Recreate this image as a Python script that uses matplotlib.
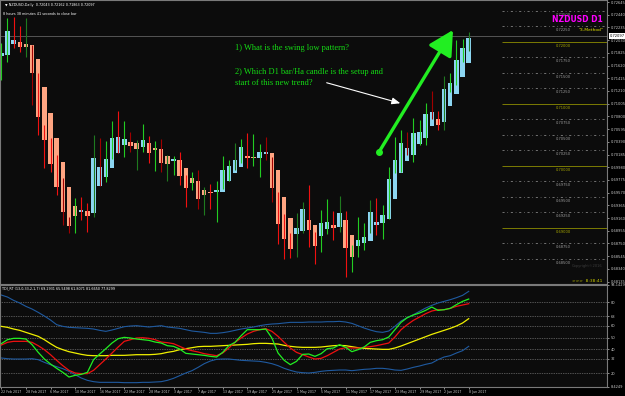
"""
NZDUSD D1 chart with Heiken Ashi bodies and TDI sub-window (MT4 style)
"""
import matplotlib.pyplot as plt
import matplotlib.transforms as mtransforms
import numpy as np

# ---- data -----------------------------------------------------------------
date_labels = ["22 Feb 2017", "28 Feb 2017", "6 Mar 2017", "10 Mar 2017",
               "16 Mar 2017", "22 Mar 2017", "28 Mar 2017", "3 Apr 2017",
               "7 Apr 2017", "13 Apr 2017", "19 Apr 2017", "25 Apr 2017",
               "1 May 2017", "5 May 2017", "11 May 2017", "17 May 2017",
               "23 May 2017", "29 May 2017", "2 Jun 2017", "8 Jun 2017"]

# heiken ashi body
ha_open = [0.71774, 0.71790, 0.71968, 0.72000, 0.71968, 0.71952, 0.71726, 0.71274,
           0.70855, 0.70452, 0.70065, 0.69661, 0.69355, 0.69258, 0.69274, 0.69242,
           0.69677, 0.69823, 0.69968, 0.70210, 0.70339, 0.70387, 0.70371, 0.70306,
           0.70371, 0.70290, 0.70274, 0.70161, 0.70081, 0.70097, 0.69968, 0.69806,
           0.69758, 0.69613, 0.69581, 0.69581, 0.69581, 0.69758, 0.69887, 0.69984,
           0.70161, 0.70145, 0.70129, 0.70194, 0.70210, 0.69936, 0.69500, 0.69161,
           0.68903, 0.68952, 0.69129, 0.69048, 0.68871, 0.68984, 0.69048, 0.69016,
           0.69129, 0.68887, 0.68710, 0.68758, 0.68790, 0.69048, 0.69081, 0.69145,
           0.69468, 0.69887, 0.70081, 0.70177, 0.70355, 0.70452, 0.70645, 0.70758,
           0.70710, 0.70968, 0.71161, 0.71436, 0.71661]
ha_close = [0.71823, 0.72177, 0.72032, 0.71919, 0.71919, 0.71500, 0.70790, 0.70419,
            0.70032, 0.69661, 0.69258, 0.69032, 0.69194, 0.69290, 0.69194, 0.70129,
            0.69984, 0.70113, 0.70452, 0.70468, 0.70436, 0.70323, 0.70274, 0.70419,
            0.70210, 0.70258, 0.70048, 0.70032, 0.70113, 0.69839, 0.69645, 0.69726,
            0.69468, 0.69532, 0.69565, 0.69613, 0.69936, 0.70000, 0.70097, 0.70306,
            0.70129, 0.70129, 0.70226, 0.70226, 0.69645, 0.69065, 0.68823, 0.68661,
            0.69000, 0.69306, 0.68968, 0.68710, 0.69081, 0.69097, 0.69000, 0.69242,
            0.68677, 0.68532, 0.68806, 0.68855, 0.69258, 0.69097, 0.69210, 0.69790,
            0.70097, 0.70371, 0.70290, 0.70532, 0.70548, 0.70839, 0.70871, 0.70661,
            0.71242, 0.71339, 0.71710, 0.71903, 0.72065]
# real bar high / low
bar_high = [0.71984, 0.72387, 0.72403, 0.72258, 0.72387, 0.71952, 0.71500, 0.70661,
            0.70452, 0.70177, 0.69806, 0.69177, 0.69484, 0.69500, 0.69403, 0.70500,
            0.70452, 0.70403, 0.70726, 0.70887, 0.70726, 0.70548, 0.70419, 0.70677,
            0.70484, 0.70403, 0.70436, 0.70177, 0.70161, 0.70226, 0.69855, 0.69903,
            0.69936, 0.69661, 0.69710, 0.69758, 0.70161, 0.70097, 0.70371, 0.70436,
            0.70532, 0.70516, 0.70355, 0.70468, 0.70145, 0.69581, 0.69226, 0.68919,
            0.69242, 0.69419, 0.69694, 0.68935, 0.69290, 0.69468, 0.69274, 0.69516,
            0.69274, 0.68726, 0.69177, 0.69081, 0.69452, 0.69484, 0.69371, 0.69984,
            0.70468, 0.70581, 0.70548, 0.70774, 0.70742, 0.71016, 0.71210, 0.70887,
            0.71452, 0.71500, 0.72032, 0.72048, 0.72161]
bar_low = [0.71387, 0.71677, 0.71903, 0.71839, 0.71758, 0.70984, 0.70500, 0.69968,
           0.69903, 0.69532, 0.69048, 0.68919, 0.68919, 0.69129, 0.68935, 0.69177,
           0.69677, 0.69742, 0.70113, 0.70210, 0.70145, 0.70226, 0.69936, 0.70226,
           0.70048, 0.69919, 0.69903, 0.69758, 0.69855, 0.69694, 0.69339, 0.69613,
           0.69306, 0.69210, 0.69306, 0.69097, 0.69629, 0.69758, 0.69936, 0.70048,
           0.69968, 0.70000, 0.69823, 0.70097, 0.69419, 0.68742, 0.68500, 0.68516,
           0.68532, 0.68919, 0.68694, 0.68419, 0.68613, 0.68903, 0.68806, 0.68935,
           0.68210, 0.68290, 0.68532, 0.68645, 0.68919, 0.68887, 0.68823, 0.69145,
           0.69887, 0.69903, 0.70177, 0.70065, 0.70339, 0.70339, 0.70758, 0.70581,
           0.70581, 0.71194, 0.71306, 0.71677, 0.71855]
wick_kind = ["g", "g", "r", "r", "dg", "dr", "r", "r", "r", "r", "dr", "dr", "g",
             "r", "r", "dg", "dr", "g", "g", "r", "g", "dr", "dg", "g", "r", "g",
             "dr", "dg", "g", "r", "r", "g", "dr", "dg", "r", "g", "g", "g", "dg",
             "g", "r", "g", "g", "dr", "dr", "r", "r", "r", "dg", "dg", "r", "r",
             "g", "g", "r", "dg", "r", "g", "g", "g", "dg", "r", "g", "g", "g", "g",
             "dr", "g", "g", "g", "dr", "r", "dg", "g", "g", "g", "dg"]
bid = 0.72097

price_ticks = [0.72645, 0.72440, 0.72235, 0.72030, 0.71825, 0.71620, 0.71415,
               0.71210, 0.71005, 0.70800, 0.70595, 0.70390, 0.70185, 0.69980,
               0.69775, 0.69570, 0.69365, 0.69160, 0.68955, 0.68750, 0.68545,
               0.68340, 0.68135]
level_prices = [0.7250, 0.7225, 0.7200, 0.7175, 0.7150, 0.7125, 0.7100, 0.7075,
                0.7050, 0.7025, 0.7000, 0.6975, 0.6950, 0.6925, 0.6900, 0.6875,
                0.6850]

# TDI lines
tdi_upper = [85.92, 84.23, 81.41, 79.16, 76.34, 74.09, 71.27, 68.17, 64.79, 60.85,
             59.44, 58.59, 58.31, 58.03, 57.75, 57.19, 56.06, 55.21, 56.34, 57.75,
             59.16, 59.72, 60.00, 59.44, 58.88, 59.44, 60.00, 58.88, 58.31, 57.75,
             56.62, 55.50, 54.93, 54.37, 53.52, 53.52, 54.09, 54.93, 56.06, 57.19,
             58.03, 58.88, 60.00, 60.85, 61.41, 61.69, 62.26, 62.82, 62.82, 62.82,
             63.10, 63.10, 63.10, 63.38, 63.38, 63.66, 63.10, 61.97, 60.00, 58.03,
             56.34, 54.93, 54.37, 55.50, 59.44, 63.95, 66.76, 69.30, 72.12, 74.93,
             77.19, 79.16, 80.57, 81.98, 83.67, 85.64, 89.02]
tdi_lower = [32.68, 32.11, 31.83, 31.83, 31.83, 32.11, 31.27, 29.02, 27.04, 25.35,
             23.66, 21.41, 18.59, 15.77, 13.80, 12.68, 12.11, 12.11, 12.11, 12.11,
             11.83, 11.83, 11.83, 12.11, 12.11, 12.39, 12.68, 13.80, 15.49, 17.75,
             20.00, 21.97, 24.79, 27.89, 30.14, 31.55, 31.83, 31.83, 31.27, 30.71,
             30.42, 30.14, 29.86, 29.02, 27.89, 26.20, 23.95, 22.25, 20.85, 20.28,
             20.00, 20.56, 21.41, 21.97, 22.25, 22.54, 22.54, 21.97, 22.54, 23.10,
             23.38, 23.95, 23.95, 23.38, 22.54, 22.25, 23.38, 24.79, 25.92, 27.33,
             28.45, 31.27, 33.52, 34.65, 36.90, 38.87, 42.54]
tdi_base = [59.44, 58.59, 57.19, 56.06, 54.37, 52.68, 50.99, 48.17, 44.79, 41.69,
            39.72, 38.03, 36.90, 35.77, 34.93, 34.65, 34.65, 34.65, 34.93, 34.93,
            34.93, 35.21, 35.49, 35.49, 35.49, 35.77, 36.34, 37.47, 38.31, 39.72,
            40.57, 41.41, 42.26, 42.54, 42.54, 42.82, 43.10, 43.38, 43.66, 43.95,
            44.23, 44.79, 45.07, 45.07, 44.79, 44.51, 43.38, 42.54, 41.97, 41.69,
            41.69, 41.69, 41.97, 42.54, 43.10, 43.38, 43.10, 42.26, 41.41, 40.85,
            40.57, 40.28, 40.00, 40.00, 41.13, 42.82, 44.79, 46.76, 48.73, 50.71,
            52.68, 54.37, 56.06, 57.75, 59.72, 62.26, 65.92]
tdi_rsi = [44.79, 48.17, 49.30, 49.30, 48.73, 43.95, 37.47, 31.83, 27.61, 23.95,
           20.56, 16.62, 18.03, 18.87, 20.56, 31.27, 36.06, 40.57, 45.35, 49.02,
           50.14, 49.58, 48.73, 48.17, 47.61, 46.20, 45.35, 43.10, 42.54, 40.28,
           36.62, 36.06, 35.49, 34.93, 34.09, 33.52, 37.47, 43.10, 45.92, 51.55,
           56.62, 56.62, 56.62, 57.19, 49.58, 36.90, 30.71, 27.04, 29.86, 35.77,
           36.06, 34.09, 36.34, 40.57, 41.13, 43.95, 41.69, 38.03, 39.72, 41.97,
           45.92, 47.33, 48.17, 50.42, 56.62, 62.82, 66.76, 69.02, 70.71, 72.96,
           75.78, 72.96, 73.52, 74.65, 77.75, 80.57, 82.54]
tdi_signal = [43.66, 45.92, 46.76, 46.76, 46.76, 45.92, 43.10, 39.72, 35.49, 30.71,
              26.20, 22.25, 20.00, 19.44, 19.44, 22.25, 27.04, 31.83, 36.90, 41.97,
              46.76, 48.17, 49.58, 49.86, 49.30, 48.17, 46.20, 45.64, 44.79, 42.54,
              40.28, 38.88, 37.75, 36.34, 35.49, 34.65, 36.90, 41.13, 45.92, 49.58,
              52.96, 55.21, 56.62, 57.47, 55.21, 50.99, 45.92, 41.13, 37.47, 35.49,
              33.52, 31.83, 32.39, 34.65, 37.47, 40.28, 41.41, 41.13, 41.13, 41.69,
              42.26, 43.10, 44.23, 45.35, 50.42, 56.62, 60.85, 64.51, 67.33, 70.14,
              72.40, 73.52, 73.52, 74.65, 76.34, 77.47, 78.59]
tdi_levels = [80, 68, 60, 50, 40, 32, 20]

# ---- layout (pixels of a 625x396 picture) ---------------------------------
W, H = 625, 396
PLOT_W = 607          # price scale starts here
MAIN_BOT = 284
SUB_TOP, SUB_BOT = 285, 387
BAR_PX = 6.15         # pixels per bar
FIRST_PX = 1.3

BG = "#0c0c0c"
FRAME = "#7a7a7a"
TXT = "#c8c8c8"

fig = plt.figure(figsize=(W / 100, H / 100), dpi=100, facecolor="black")
ax = fig.add_axes([0, 1 - MAIN_BOT / H, PLOT_W / W, MAIN_BOT / H], facecolor=BG)
ax2 = fig.add_axes([0, 1 - SUB_BOT / H, PLOT_W / W, (SUB_BOT - SUB_TOP) / H],
                   facecolor=BG)

xmin = -FIRST_PX / BAR_PX
xmax = xmin + PLOT_W / BAR_PX
n = len(ha_open)
x = np.arange(n)

# ---- main chart -----------------------------------------------------------
o = np.array(ha_open)
c = np.array(ha_close)
body_bot = np.minimum(o, c)
body_h = np.maximum(np.abs(c - o), 0.00003)
body_col = ["#8cd6f2" if cc >= oo else "#ffa582" for oo, cc in zip(o, c)]
wick_map = {"g": "#22cc22", "dg": "#1f7a1f", "r": "#f01010", "dr": "#a00000"}

ax.bar(x, body_h, bottom=body_bot, width=0.72, color=body_col, zorder=2)
ax.vlines(x, bar_low, bar_high, colors=[wick_map[k] for k in wick_kind],
          lw=0.8, zorder=3)

# round number levels on the right side
lvl_start = n + 4.4
lvl_lbl_x = lvl_start + 10
for p in level_prices:
    is_round = abs(p * 100 - round(p * 100)) < 1e-6
    col = "#a8a800" if is_round else "#9a9a9a"
    ls = "-" if is_round else (0, (3, 4, 1, 4))
    ax.hlines(p, lvl_start, xmax, colors=col, linestyles=ls, lw=0.5, zorder=1)
    ax.annotate(f"{p:.5f}", (lvl_lbl_x, p), xytext=(0, -2.6),
                textcoords="offset points", ha="center", va="center",
                fontsize=2.6, color=col)

# bid line
ax.axhline(bid, color="#555555", lw=0.7, zorder=1)

ax.set_xlim(xmin, xmax)
ax.set_ylim(0.726774 - MAIN_BOT * 0.00016129, 0.726774)
ax.yaxis.tick_right()
ax.set_yticks(price_ticks)
ax.set_yticklabels([f"{p:.5f}" for p in price_ticks])
ax.tick_params(axis="y", labelsize=2.6, colors=TXT, length=1.5, width=0.5, pad=1)
ax.set_xticks([])
for s in ax.spines.values():
    s.set_color(FRAME)
    s.set_linewidth(0.8)

trans = mtransforms.blended_transform_factory(ax.transAxes, ax.transData)
ax.text(1.004, bid, f"{bid:.5f}", transform=trans, fontsize=2.6, color="black",
        va="center", ha="left",
        bbox=dict(boxstyle="square,pad=0.15", fc="white", ec="none"))

# texts in the main window
ax.text(5 / PLOT_W, 1 - 5 / MAIN_BOT,
        "\u25bc NZDUSD,Daily  0.72043 0.72162 0.71863 0.72097",
        transform=ax.transAxes, fontsize=2.4, color="white", va="center")
ax.text(3 / PLOT_W, 1 - 14 / MAIN_BOT,
        "8 hours 38 minutes 41 seconds to close bar",
        transform=ax.transAxes, fontsize=2.4, color="white", va="center")
ax.text(603 / PLOT_W, 1 - 20 / MAIN_BOT, "NZDUSD D1", transform=ax.transAxes,
        fontsize=5.5, fontweight="bold", color="#ff00ff", ha="right", va="center")
ax.text(603 / PLOT_W, 1 - 30 / MAIN_BOT, '"3-Method"', transform=ax.transAxes,
        fontsize=3.2, color="#e6e600", ha="right", va="center")

q_font = dict(family="Liberation Serif", fontsize=6, color="#14dc14",
              transform=ax.transAxes, va="center")
ax.text(235 / PLOT_W, 1 - 48 / MAIN_BOT, "1) What is the swing low pattern?", **q_font)
ax.text(235 / PLOT_W, 1 - 72 / MAIN_BOT,
        "2) Which D1 bar/Ha candle is the setup and", **q_font)
ax.text(235 / PLOT_W, 1 - 83 / MAIN_BOT, "start of this new trend?", **q_font)

# white pointer arrow
ax.annotate("", xy=(403 / PLOT_W, 1 - 104 / MAIN_BOT),
            xytext=(324 / PLOT_W, 1 - 82 / MAIN_BOT), xycoords="axes fraction",
            arrowprops=dict(arrowstyle="-|>,head_length=0.5,head_width=0.2",
                            color="white", lw=0.8))
# green trend arrow
ax.annotate("", xy=(453 / PLOT_W, 1 - 30 / MAIN_BOT),
            xytext=(379 / PLOT_W, 1 - 152 / MAIN_BOT), xycoords="axes fraction",
            arrowprops=dict(arrowstyle="-|>,head_length=1.5,head_width=0.8",
                            color="#22ee22", lw=2.4, shrinkA=0, shrinkB=0))
ax.plot([379 / PLOT_W], [1 - 152 / MAIN_BOT], "o", color="#22ee22", ms=4,
        transform=ax.transAxes)

ax.text(602 / PLOT_W, 1 - 266 / MAIN_BOT, "Copyright\u00a92016",
        transform=ax.transAxes, fontsize=2.6, color="#3c3c3c", ha="right",
        va="center")
ax.text(602 / PLOT_W, 1 - 281 / MAIN_BOT, ">>>  8:38:41", transform=ax.transAxes,
        fontsize=3.2, color="#c8c800", ha="right", va="center")

# ---- TDI sub-window -------------------------------------------------------
for lv in tdi_levels:
    ax2.axhline(lv, color="#9a9a9a", lw=0.5, ls=(0, (1, 1.5)), zorder=1)
ax2.plot(x, tdi_upper, color="#1f5aa0", lw=0.8, zorder=2)
ax2.plot(x, tdi_lower, color="#1f5aa0", lw=0.8, zorder=2)
ax2.plot(x, tdi_base, color="#f0f000", lw=0.9, zorder=3)
ax2.plot(x, tdi_signal, color="#ee1010", lw=0.9, zorder=4)
ax2.plot(x, tdi_rsi, color="#22ee22", lw=0.9, zorder=5)

ax2.set_xlim(xmin, xmax)
ax2.set_ylim(8.17, 94.4)
ax2.yaxis.tick_right()
ax2.set_yticks(tdi_levels + [8.17, 94.4])
ax2.set_yticklabels([str(v) for v in tdi_levels] + ["8.4249", "94.1429"])
ax2.tick_params(axis="y", labelsize=2.6, colors=TXT, length=1.5, width=0.5, pad=1)
ax2.set_xticks(range(0, n, 4))
ax2.set_xticklabels(date_labels, ha="left")
ax2.tick_params(axis="x", labelsize=2.3, colors=TXT, length=1.5, width=0.5, pad=1)
for s in ax2.spines.values():
    s.set_color(FRAME)
    s.set_linewidth(0.8)

ax2.text(2 / PLOT_W, 1 - 3 / (SUB_BOT - SUB_TOP),
         "TDI_RT (13,0,33,2,1,7) 69.2931 65.5498 61.8071 81.6650 77.8299",
         transform=ax2.transAxes, fontsize=2.4, color="white", va="center")

fig.savefig("out.png", dpi=100, facecolor="black")
